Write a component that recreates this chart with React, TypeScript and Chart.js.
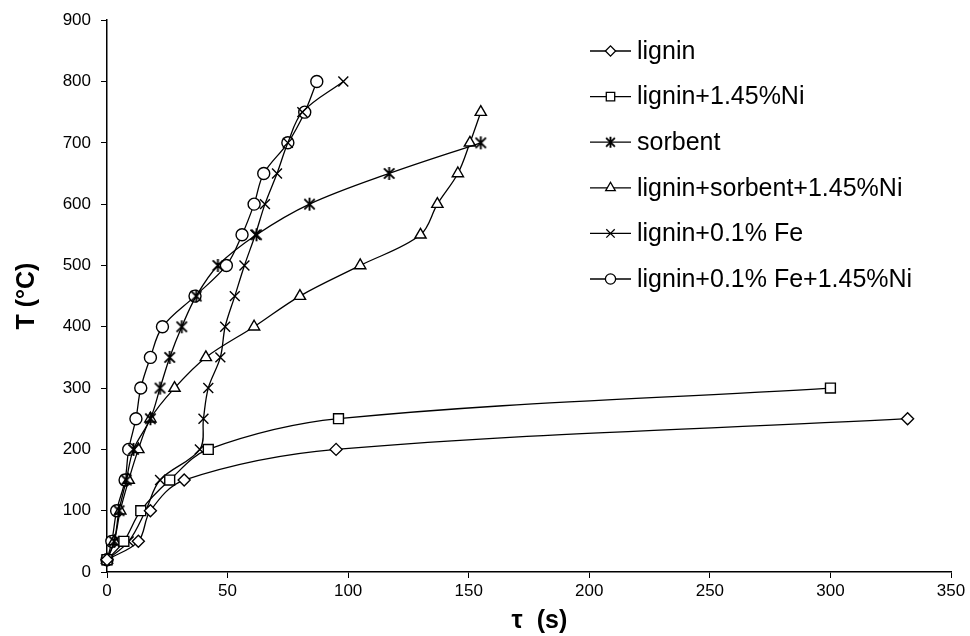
import React, { useEffect, useRef } from 'react';
import { Chart, registerables } from 'chart.js';
import { drawPoint } from 'chart.js/helpers';

Chart.register(...registerables);

// ---- Data (τ in s, T in °C) ----
const seriesLabels = [
  'lignin',
  'lignin+1.45%Ni',
  'sorbent',
  'lignin+sorbent+1.45%Ni',
  'lignin+0.1% Fe',
  'lignin+0.1% Fe+1.45%Ni',
];

const ligninTau = [0, 13, 18, 32, 95, 332];
const ligninT = [20, 50, 100, 150, 200, 250];

const ligninNiTau = [0, 7, 14, 26, 42, 96, 300];
const ligninNiT = [20, 50, 100, 150, 200, 250, 300];

const sorbentTau = [0, 3, 5, 8, 11, 18, 22, 26, 31, 37, 46, 62, 84, 117, 155];
const sorbentT = [20, 50, 100, 150, 200, 250, 300, 350, 400, 450, 500, 550, 600, 650, 700];

const ligninSorbentNiTau = [0, 3, 5.5, 9, 13, 18, 28, 41, 61, 80, 105, 130, 137, 145.5, 150.5, 155];
const ligninSorbentNiT = [20, 50, 100, 150, 200, 250, 300, 350, 400, 450, 500, 550, 600, 650, 700, 750];

const ligninFeTau = [0, 9, 16, 22, 38.5, 40, 42, 47, 49, 53, 57, 61.5, 65.5, 70.5, 75, 81, 98];
const ligninFeT = [20, 50, 100, 150, 200, 250, 300, 350, 400, 450, 500, 550, 600, 650, 700, 750, 800];

const ligninFeNiTau = [0, 2, 4, 7.5, 9, 12, 14, 18, 23, 36.5, 49.5, 56, 61, 65, 75, 82, 87];
const ligninFeNiT = [20, 50, 100, 150, 200, 250, 300, 350, 400, 450, 500, 550, 600, 650, 700, 750, 800];

const xTicksMax = 350;
const yTicksMax = 900;

const FONT = 'Arial, "Liberation Sans", sans-serif';

function pts(xs: number[], ys: number[]) {
  return xs.map((x, i) => ({ x, y: ys[i] }));
}

function makeAsterisk(size: number): HTMLCanvasElement {
  const c = document.createElement('canvas');
  c.width = size;
  c.height = size;
  const g = c.getContext('2d')!;
  const m = size / 2;
  const r = size / 2 - 1;
  const d = r * 0.8;
  g.strokeStyle = '#000';
  g.lineWidth = 1.9;
  g.beginPath();
  g.moveTo(m, m - r);
  g.lineTo(m, m + r);
  g.moveTo(m - d, m - d);
  g.lineTo(m + d, m + d);
  g.moveTo(m + d, m - d);
  g.lineTo(m - d, m + d);
  g.stroke();
  return c;
}

const seriesData = [
  pts(ligninTau, ligninT),
  pts(ligninNiTau, ligninNiT),
  pts(sorbentTau, sorbentT),
  pts(ligninSorbentNiTau, ligninSorbentNiT),
  pts(ligninFeTau, ligninFeT),
  pts(ligninFeNiTau, ligninFeNiT),
];
const seriesRadius = [6, 7, 6, 6.5, 7, 6];

export default function App() {
  const ref = useRef<HTMLCanvasElement | null>(null);
  useEffect(() => {
    document.body.style.margin = '0';
    const asterisk = makeAsterisk(15);
    const asteriskSmall = makeAsterisk(13);
    const seriesStyles: any[] = ['rectRot', 'rect', asterisk, 'triangle', 'crossRot', 'circle'];

    const legendPlugin = {
      id: 'insideLegend',
      afterDraw(chart: any) {
        const ctx = chart.ctx as CanvasRenderingContext2D;
        ctx.save();
        chart.data.datasets.forEach((ds: any, i: number) => {
          const y = 51 + i * 45.6;
          ctx.strokeStyle = '#000';
          ctx.lineWidth = 1.3;
          ctx.beginPath();
          ctx.moveTo(590, y);
          ctx.lineTo(631, y);
          ctx.stroke();
          ctx.fillStyle = '#fff';
          const style = ds.pointStyle === asterisk ? asteriskSmall : ds.pointStyle;
          drawPoint(ctx, { pointStyle: style, radius: ds.pointRadius * 0.85, borderWidth: 1.3, rotation: 0 } as any, 610.5, y);
          ctx.fillStyle = '#000';
          ctx.font = `25px ${FONT}`;
          ctx.textBaseline = 'middle';
          ctx.textAlign = 'left';
          ctx.fillText(ds.label, 637, y + 1);
        });
        ctx.restore();
      },
    };

    const canvas = ref.current!;
    const chart = new Chart(canvas, {
      type: 'scatter',
      data: {
        datasets: seriesData.map((d, i) => ({
          label: seriesLabels[i],
          data: d,
          showLine: true,
          tension: 0.35,
          borderColor: '#000',
          borderWidth: 1.3,
          backgroundColor: '#fff',
          pointStyle: seriesStyles[i],
          pointRadius: seriesRadius[i],
          pointBorderColor: '#000',
          pointBackgroundColor: '#fff',
          pointBorderWidth: 1.4,
          clip: false as any,
        })),
      },
      options: {
        animation: false,
        responsive: false,
        devicePixelRatio: 1,
        layout: { padding: { top: 20, right: 19, left: 0, bottom: 0 } },
        plugins: {
          legend: { display: false },
          tooltip: { enabled: false },
        },
        scales: {
          x: {
            type: 'linear',
            min: 0,
            max: xTicksMax,
            afterFit(scale: any) {
              scale.height = 64;
            },
            ticks: { stepSize: 50, color: '#000', font: { family: FONT, size: 17 }, padding: 3, maxRotation: 0 },
            grid: { display: true, drawOnChartArea: false, drawTicks: true, tickLength: 6, color: '#000', lineWidth: 1 },
            border: { display: true, color: '#000', width: 1.5 },
            title: {
              display: true,
              text: '   τ  (s)',
              color: '#000',
              font: { family: FONT, size: 25, weight: 'bold' },
              padding: { top: 0, bottom: 0 },
            },
          },
          y: {
            type: 'linear',
            min: 0,
            max: yTicksMax,
            afterFit(scale: any) {
              scale.width = 107;
            },
            ticks: { stepSize: 100, color: '#000', font: { family: FONT, size: 17 }, padding: 10 },
            grid: { display: true, drawOnChartArea: false, drawTicks: true, tickLength: 6, color: '#000', lineWidth: 1 },
            border: { display: true, color: '#000', width: 1.5 },
            title: {
              display: true,
              text: 'T (°C)',
              color: '#000',
              font: { family: FONT, size: 25, weight: 'bold' },
              padding: { top: 12, bottom: 0 },
            },
          },
        },
      },
      plugins: [legendPlugin],
    });
    return () => chart.destroy();
  }, []);
  return (
    <div style={{ width: 970, height: 636 }}>
      <canvas ref={ref} width={970} height={636} />
    </div>
  );
}
